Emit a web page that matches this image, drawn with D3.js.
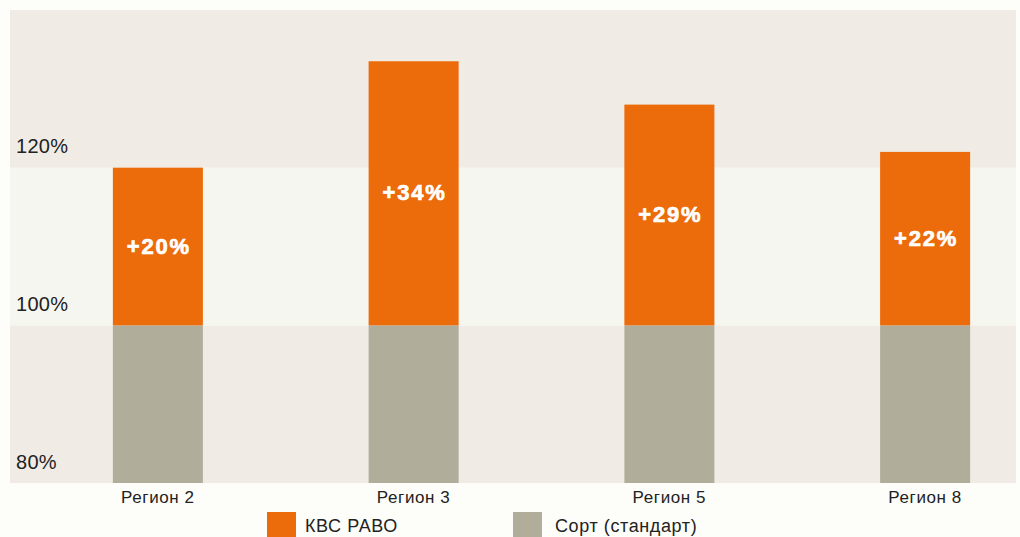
<!DOCTYPE html>
<html>
<head>
<meta charset="utf-8">
<script src="https://cdn.jsdelivr.net/npm/d3@7"></script>
<style>
  body { margin: 0; background: #fdfdf9; }
  text { font-family: "Liberation Sans", Arial, sans-serif; }
</style>
</head>
<body>
<svg></svg>
<script>
var regions = ["Регион 2", "Регион 3", "Регион 5", "Регион 8"];
var baseValues = [100, 100, 100, 100];      // сорт (стандарт)
var kwsValues = [120, 133.5, 128, 122];    // КВС РАВО
var gainLabels = ["+20%", "+34%", "+29%", "+22%"];
var yTicks = [80, 100, 120];
var bands = [[80, 100], [100, 120], [120, 140]];
var legendItems = ["КВС РАВО", "Сорт (стандарт)"];

var width = 1020;
var height = 537;
var orange = "#ec6b0a";
var grey = "#b0ad9a";

var svg = d3.select("svg")
    .attr("width", width)
    .attr("height", height);

var x = d3.scaleBand()
    .domain(regions)
    .range([30, 1053])
    .paddingInner(0.648)
    .paddingOuter(0.324);

var y = d3.scaleLinear()
    .domain([80, 140])
    .range([483, 10]);

// background bands
svg.selectAll(".band")
    .data(bands)
    .enter()
    .append("rect")
      .attr("x", 10)
      .attr("width", 1006)
      .attr("y", d => y(d[1]))
      .attr("height", d => y(d[0]) - y(d[1]))
      .attr("fill", (d, i) => i % 2 == 0 ? "#f0ece5" : "#f6f6f0");

// y labels sit above their gridline
svg.selectAll(".ylab")
    .data(yTicks)
    .enter()
    .append("text")
      .attr("x", 16)
      .attr("y", d => y(d) - 14.5)
      .attr("font-size", 20)
      .attr("letter-spacing", 0.3)
      .attr("fill", "#222")
      .text(d => d + "%");

// standard (grey) part
svg.selectAll(".base")
    .data(regions)
    .enter()
    .append("rect")
      .attr("x", d => x(d))
      .attr("width", x.bandwidth())
      .attr("y", (d, i) => y(baseValues[i]))
      .attr("height", (d, i) => y(80) - y(baseValues[i]))
      .attr("fill", grey);

// gain (orange) part
svg.selectAll(".gain")
    .data(regions)
    .enter()
    .append("rect")
      .attr("x", d => x(d))
      .attr("width", x.bandwidth())
      .attr("y", (d, i) => y(kwsValues[i]))
      .attr("height", (d, i) => y(baseValues[i]) - y(kwsValues[i]))
      .attr("fill", orange);

svg.selectAll(".glab")
    .data(regions)
    .enter()
    .append("text")
      .attr("x", d => x(d) + x.bandwidth() / 2 + 1)
      .attr("y", (d, i) => (y(kwsValues[i]) + y(baseValues[i])) / 2 + 7)
      .attr("text-anchor", "middle")
      .attr("font-size", 22)
      .attr("font-weight", "bold")
      .attr("letter-spacing", 1.8)
      .attr("fill", "#fff")
      .attr("stroke", "#fff")
      .attr("stroke-width", 0.7)
      .text((d, i) => gainLabels[i]);

// x axis labels
svg.selectAll(".xlab")
    .data(regions)
    .enter()
    .append("text")
      .attr("x", d => x(d) + x.bandwidth() / 2)
      .attr("y", 503)
      .attr("text-anchor", "middle")
      .attr("font-size", 17)
      .attr("letter-spacing", 0.6)
      .attr("fill", "#222")
      .text(d => d);

// legend
var legend = svg.selectAll(".leg")
    .data(legendItems)
    .enter()
    .append("g")
      .attr("transform", (d, i) => "translate(" + (267 + i * 246) + ",512)");

legend.append("rect")
    .attr("width", 29)
    .attr("height", 29)
    .attr("fill", (d, i) => i == 0 ? orange : grey);

legend.append("text")
    .attr("x", (d, i) => i == 0 ? 38 : 42)
    .attr("y", 20)
    .attr("font-size", 18)
    .attr("letter-spacing", 0.6)
    .attr("fill", "#222")
    .text(d => d);
</script>
</body>
</html>
